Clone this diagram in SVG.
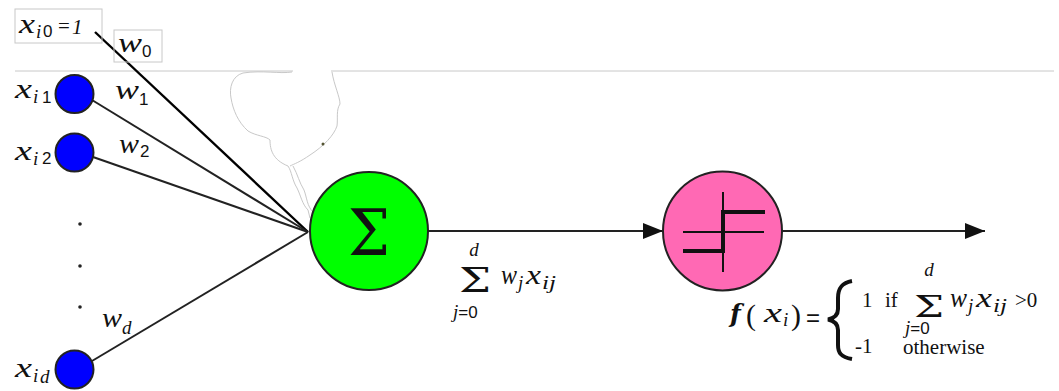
<svg xmlns="http://www.w3.org/2000/svg" width="1059" height="391" viewBox="0 0 1059 391">
<defs>
<style>
.mi{font-family:"Liberation Serif",serif;font-style:italic;font-size:28px;fill:#111}
.sub{font-family:"Liberation Serif",serif;font-style:italic;font-size:19px;fill:#111}
.sd{font-family:"Liberation Sans",sans-serif;font-size:17px;fill:#111}
.rm{font-family:"Liberation Serif",serif;font-size:21px;fill:#111}
.edge{stroke:#222;stroke-width:2;fill:none}
.inp{fill:#0000ff;stroke:#222;stroke-width:2}
.faint{stroke:#c8c8c8;stroke-width:1;fill:none}
</style>
<marker id="arr" markerWidth="20" markerHeight="16" refX="20" refY="8" orient="auto" markerUnits="userSpaceOnUse">
<path d="M0,0 L20,8 L0,16 Z" fill="#111"/>
</marker>
</defs>
<rect width="1059" height="391" fill="#fff"/>

<g id="background">
<line class="faint" x1="15" y1="71" x2="293" y2="71"/>
<line class="faint" x1="331" y1="71" x2="1054" y2="71"/>
<path class="faint" d="M292,72 C280,74 262,70 243,73 C232,76 229,88 231,98 C233,110 238,122 248,131 C256,136 266,136 270,140 C270,150 273,160 288,166 C292,172 292,180 297,188 C301,196 302,204 308,210 L310,218"/>
<path class="faint" d="M332,72 C334,85 340,97 340,104 C336,110 338,118 337,126 C334,135 324,146 310,155 C300,162 294,164 290,166"/>
<path class="faint" d="M293,166 C298,175 299,182 304,190 C307,198 307,206 313,212"/>
<circle cx="323" cy="144" r="1.5" fill="#553"/>
</g>

<g id="connectors">
<line x1="95" y1="32" x2="308" y2="232" stroke="#000" stroke-width="2.4"/>
<line class="edge" x1="92" y1="100" x2="308" y2="232"/>
<line class="edge" x1="93" y1="157" x2="308" y2="232"/>
<line class="edge" x1="92" y1="361" x2="308" y2="232"/>
<line class="edge" x1="428" y1="231" x2="663" y2="231" marker-end="url(#arr)"/>
<line class="edge" x1="782" y1="231" x2="985" y2="231" marker-end="url(#arr)"/>
</g>

<g id="node-x0">
<rect class="faint" x="15" y="9" width="87" height="34"/>
<text class="mi" x="19" y="33" textLength="16" lengthAdjust="spacingAndGlyphs">x</text>
<text class="sub" x="36" y="38">i</text>
<text class="sd" x="43" y="37">0</text>
<text class="rm" x="58" y="33" font-size="17">=</text>
<text class="rm" x="72" y="34" font-style="italic" font-size="21">1</text>
</g>
<g id="label-w0">
<rect class="faint" x="114" y="30" width="48" height="32"/>
<text class="mi" x="118" y="52" textLength="24" lengthAdjust="spacingAndGlyphs">w</text>
<text class="sd" x="142" y="57">0</text>
</g>

<g id="node-x1">
<circle class="inp" cx="74.5" cy="94" r="19"/>
<text class="mi" x="15" y="98" textLength="17" lengthAdjust="spacingAndGlyphs">x</text>
<text class="sub" x="33" y="103">i</text>
<text class="sd" x="42" y="103">1</text>
</g>
<g id="label-w1">
<text class="mi" x="115" y="99" textLength="24" lengthAdjust="spacingAndGlyphs">w</text>
<text class="sd" x="139" y="105">1</text>
</g>

<g id="node-x2">
<circle class="inp" cx="74.5" cy="152.5" r="19"/>
<text class="mi" x="15" y="160" textLength="17" lengthAdjust="spacingAndGlyphs">x</text>
<text class="sub" x="33" y="165">i</text>
<text class="sd" x="42" y="164">2</text>
</g>
<g id="label-w2">
<text class="mi" x="119" y="153" textLength="20" lengthAdjust="spacingAndGlyphs">w</text>
<text class="sd" x="140" y="157">2</text>
</g>

<g id="dots" fill="#222">
<circle cx="80" cy="224" r="1.8"/>
<circle cx="80" cy="266" r="1.8"/>
<circle cx="80" cy="307" r="1.8"/>
</g>

<g id="node-xd">
<circle class="inp" cx="74.5" cy="369.5" r="19"/>
<text class="mi" x="15" y="377" textLength="17" lengthAdjust="spacingAndGlyphs">x</text>
<text class="sub" x="33" y="382">i</text>
<text class="sub" x="40" y="383">d</text>
</g>
<g id="label-wd">
<text class="mi" x="102" y="327" textLength="20" lengthAdjust="spacingAndGlyphs">w</text>
<text class="sub" x="122" y="334">d</text>
</g>

<g id="node-sum">
<circle cx="369" cy="231" r="59" fill="#00ff00" stroke="#222" stroke-width="2"/>
<text x="348" y="255" font-family="DejaVu Serif, serif" font-size="64" fill="#111" textLength="42" lengthAdjust="spacingAndGlyphs">Σ</text>
</g>

<g id="label-sum">
<text class="sub" x="474" y="256" text-anchor="middle" font-size="18">d</text>
<text x="459" y="292" font-family="DejaVu Serif, serif" font-size="34" textLength="32" lengthAdjust="spacingAndGlyphs" fill="#111">Σ</text>
<text x="453" y="318"><tspan class="sub" font-size="18">j</tspan><tspan class="sd" font-size="18">=0</tspan></text>
<text class="mi" x="501" y="284" font-size="23" textLength="16" lengthAdjust="spacingAndGlyphs">w</text>
<text class="sub" x="518" y="289" font-size="16">j</text>
<text class="mi" x="526" y="284" font-size="23" textLength="15" lengthAdjust="spacingAndGlyphs">x</text>
<text class="sub" x="542" y="289" font-size="16" textLength="14" lengthAdjust="spacingAndGlyphs">ij</text>
</g>

<g id="node-step">
<circle cx="722.5" cy="231" r="59.5" fill="#ff69b4" stroke="#222" stroke-width="2"/>
<line x1="723" y1="192" x2="723" y2="272" stroke="#111" stroke-width="2"/>
<line x1="683" y1="232" x2="764" y2="232" stroke="#111" stroke-width="2"/>
<polyline points="683,251 723,251 723,212 765,212" fill="none" stroke="#111" stroke-width="4"/>
</g>

<g id="label-f">
<text x="730" y="322" font-family="DejaVu Serif, serif" font-weight="bold" font-style="italic" font-size="25" fill="#111">f</text>
<text x="746" y="325" font-family="Liberation Serif, serif" font-size="30" fill="#111">(</text>
<text class="mi" x="764" y="322" font-size="25" textLength="18" lengthAdjust="spacingAndGlyphs">x</text>
<text class="sub" x="783" y="326" font-size="17">i</text>
<text x="791" y="325" font-family="Liberation Serif, serif" font-size="30" fill="#111">)</text>
<text x="806" y="326" font-family="Liberation Sans, sans-serif" font-size="24" fill="#111">=</text>
<path d="M852,281 C841,283 838,289 838,298 L838,309 C838,315 835,318 828,319.5 C835,321 838,324 838,330 L838,345 C838,353 841,357 852,359" fill="none" stroke="#111" stroke-width="4"/>
<text class="rm" x="862" y="307">1</text>
<text class="rm" x="885" y="307">if</text>
<text class="sub" x="929" y="276" text-anchor="middle" font-size="18">d</text>
<text x="914" y="317" font-family="DejaVu Serif, serif" font-size="30" textLength="30" lengthAdjust="spacingAndGlyphs" fill="#111">Σ</text>
<text x="905" y="334"><tspan class="sub" font-size="16">j</tspan><tspan class="sd" font-size="16">=0</tspan></text>
<text class="mi" x="950" y="307" font-size="23" textLength="17" lengthAdjust="spacingAndGlyphs">w</text>
<text class="sub" x="968" y="312" font-size="16">j</text>
<text class="mi" x="976" y="307" font-size="23" textLength="16" lengthAdjust="spacingAndGlyphs">x</text>
<text class="sub" x="993" y="312" font-size="16" textLength="14" lengthAdjust="spacingAndGlyphs">ij</text>
<text class="rm" x="1015" y="307" font-size="24">&gt;0</text>
<text class="rm" x="855" y="353">-1</text>
<text class="rm" x="903" y="354" font-size="24">otherwise</text>
</g>
</svg>
